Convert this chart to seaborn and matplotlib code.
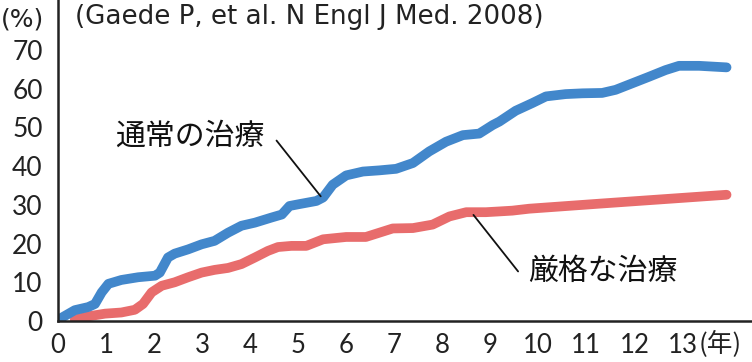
import pandas as pd
import seaborn as sns
import matplotlib.pyplot as plt

# values
years_std = [0, 0.35, 0.63, 0.77, 0.91, 1.05, 1.32, 1.67, 2.02, 2.12, 2.29, 2.43, 2.71, 2.99,
             3.26, 3.54, 3.82, 4.1, 4.44, 4.66, 4.82, 5.03, 5.38, 5.52, 5.72, 6.0, 6.35, 6.69,
             7.04, 7.39, 7.73, 8.08, 8.43, 8.77, 9.05, 9.19, 9.53, 9.88, 10.16, 10.57, 10.92,
             11.33, 11.61, 11.96, 12.31, 12.65, 12.93, 13.35, 13.92]
pct_std = [0.3, 2.8, 3.6, 4.4, 7.4, 9.6, 10.6, 11.3, 11.7, 12.5, 16.4, 17.4, 18.5, 19.8,
           20.7, 22.8, 24.6, 25.4, 26.7, 27.5, 29.7, 30.2, 31.0, 31.9, 35.2, 37.6, 38.6, 38.9,
           39.3, 40.8, 43.8, 46.3, 48.0, 48.4, 50.6, 51.5, 54.3, 56.3, 58.0, 58.6, 58.8,
           58.9, 59.7, 61.4, 63.1, 64.8, 65.9, 65.9, 65.5]

years_int = [0.35, 0.63, 0.98, 1.32, 1.6, 1.77, 1.95, 2.16, 2.43, 2.71, 2.99, 3.26, 3.54, 3.82,
             4.1, 4.37, 4.58, 4.86, 5.17, 5.52, 6.0, 6.41, 6.69, 6.97, 7.39, 7.8, 8.15, 8.5,
             8.91, 9.19, 9.46, 9.81, 11.27, 13.92]
pct_int = [0.4, 1.2, 1.9, 2.2, 2.9, 4.4, 7.4, 9.1, 10.0, 11.3, 12.5, 13.2, 13.7, 14.7,
           16.4, 18.1, 19.1, 19.4, 19.4, 21.1, 21.7, 21.7, 22.8, 23.9, 24.0, 24.9, 27.0, 28.1,
           28.1, 28.3, 28.5, 29.0, 30.3, 32.6]

x_ticks = list(range(0, 14))
y_ticks = list(range(0, 80, 10))

sns.set_style("white")
plt.rcParams['font.family'] = ['Lato', 'Noto Sans CJK JP', 'DejaVu Sans']
jp = ['Noto Sans CJK JP', 'DejaVu Sans']

std_df = pd.DataFrame({'year': years_std, 'pct': pct_std})
int_df = pd.DataFrame({'year': years_int, 'pct': pct_int})

fig = plt.figure(figsize=(7.52, 3.62), dpi=100)
ax = fig.add_axes([58 / 752, 41 / 362, 1 - 58 / 752, 1 - 41 / 362])

sns.lineplot(data=int_df, x='year', y='pct', ax=ax, color='#e86c6c', linewidth=7,
             solid_capstyle='round', solid_joinstyle='round')
sns.lineplot(data=std_df, x='year', y='pct', ax=ax, color='#4287cb', linewidth=7,
             solid_capstyle='round', solid_joinstyle='round')

ax.set_xlim(0, 14.45)
ax.set_ylim(0, 82.9)
ax.set_xticks(x_ticks)
ax.set_yticks(y_ticks)
ax.set_xlabel('')
ax.set_ylabel('')
ax.tick_params(axis='y', direction='out', length=8, width=1.6, labelsize=19, color='#222222',
               labelcolor='#222222', pad=3)
ax.tick_params(axis='x', direction='out', length=7.5, width=1.6, labelsize=18.5, color='#222222',
               labelcolor='#222222', pad=1)
sns.despine(ax=ax)
for s in ['left', 'bottom']:
    ax.spines[s].set_linewidth(1.8)
    ax.spines[s].set_color('#222222')

fig.text(0.5 / 752, 1 - 19 / 362, '(%)', fontsize=18, va='center', ha='left', color='#222222',
         family=['DejaVu Sans'])
fig.text(699 / 752, 1 - 344 / 362, '(年)', fontsize=18.5, va='center', ha='left', color='#222222',
         family=jp)
ax.text(0.35, 78.5, '(Gaede P, et al. N Engl J Med. 2008)', fontsize=18.8, va='center',
        ha='left', color='#222222', family=['DejaVu Sans'])

ax.text(1.18, 47.8, '通常の治療', fontsize=21.5, va='center', ha='left', color='#111111',
        family=jp)
ax.plot([4.55, 5.47], [46.6, 32.2], color='#111111', linewidth=1.3)
ax.text(9.78, 12.8, '厳格な治療', fontsize=21.5, va='center', ha='left', color='#111111',
        family=jp)
ax.plot([8.65, 9.58], [27.4, 12.8], color='#111111', linewidth=1.3)

plt.savefig('out.png', dpi=100)
